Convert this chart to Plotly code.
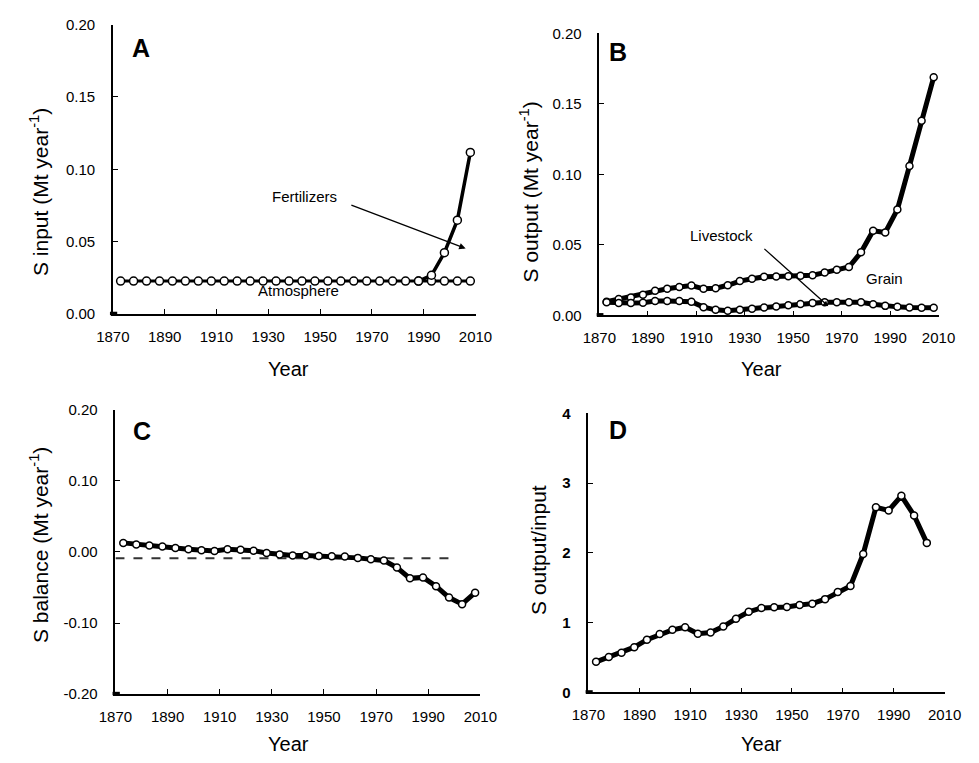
import plotly.graph_objects as go

# ---- data ----
years = [1873 + 5 * i for i in range(28)]
years_d = years[:27]

atmosphere = [0.0228] * 28
fert_years = [1988, 1993, 1998, 2003, 2008]
fertilizers = [0.0228, 0.0268, 0.0424, 0.0649, 0.1117]

grain = [0.0097, 0.0116, 0.0127, 0.0146, 0.0174, 0.0188, 0.0201, 0.0211, 0.0188, 0.0192,
         0.0213, 0.0243, 0.0259, 0.0273, 0.0275, 0.0278, 0.0280, 0.0285, 0.0303, 0.0324,
         0.0343, 0.0447, 0.0600, 0.0588, 0.0750, 0.1060, 0.1380, 0.1690]
livestock = [0.0093, 0.0088, 0.0088, 0.0090, 0.0102, 0.0102, 0.0102, 0.0097, 0.0058, 0.0039,
             0.0032, 0.0039, 0.0046, 0.0056, 0.0063, 0.0072, 0.0081, 0.0088, 0.0093, 0.0093,
             0.0093, 0.0093, 0.0079, 0.0067, 0.0060, 0.0056, 0.0053, 0.0053]

balance = [0.0128, 0.0106, 0.0092, 0.0078, 0.0055, 0.0037, 0.0023, 0.0014, 0.0037, 0.0032,
           0.0018, -0.0014, -0.0037, -0.0051, -0.0051, -0.0055, -0.0060, -0.0064, -0.0083, -0.0101,
           -0.0119, -0.0220, -0.0371, -0.0358, -0.0481, -0.0642, -0.0734, -0.0573]
dash_x = [1870, 1998.5]
dash_y = [-0.0087, -0.0087]

ratio = [0.438, 0.508, 0.569, 0.649, 0.756, 0.836, 0.897, 0.934, 0.841, 0.859,
         0.944, 1.056, 1.155, 1.211, 1.220, 1.225, 1.253, 1.272, 1.337, 1.440,
         1.525, 1.984, 2.653, 2.607, 2.817, 2.536, 2.143]

xticks = [1870, 1890, 1910, 1930, 1950, 1970, 1990, 2010]
c_tickvals = [-0.20, -0.10, 0.00, 0.10, 0.20]
c_ticktext = ["-0.20", "-0.10", "0.00", "0.10", "0.20"]

FONT = "Liberation Sans, Arial, sans-serif"
W, H = 979, 763

fig = go.Figure()

def line(x, y, xa, ya, lw=4, ms=8):
    fig.add_trace(go.Scatter(
        x=x, y=y, xaxis=xa, yaxis=ya, mode="lines+markers",
        line=dict(color="black", width=lw),
        marker=dict(symbol="circle", size=ms, color="white", line=dict(color="black", width=1.5)),
        showlegend=False, hoverinfo="skip"))

# Panel A
line(years, atmosphere, "x", "y", lw=3, ms=8)
line(fert_years, fertilizers, "x", "y", lw=3.5, ms=8)
# Panel B
line(years, grain, "x2", "y2", lw=5, ms=7)
line(years, livestock, "x2", "y2", lw=5, ms=7)
# Panel C
fig.add_trace(go.Scatter(x=dash_x, y=dash_y, xaxis="x3", yaxis="y3", mode="lines",
                         line=dict(color="#333333", width=2, dash="dash"),
                         showlegend=False, hoverinfo="skip"))
line(years, balance, "x3", "y3", lw=5, ms=7)
# Panel D
line(years_d, ratio, "x4", "y4", lw=5, ms=7)

def px_x(a, b):
    return [a / W, b / W]

def px_y(top, bottom):
    return [1 - bottom / H, 1 - top / H]

xcommon = dict(range=[1870, 2010], tickvals=xticks, ticks="inside", ticklen=5, tickwidth=1.2,
               tickcolor="black", showline=True, linecolor="black", linewidth=1.5,
               showgrid=False, zeroline=False, tickfont=dict(family=FONT, size=15, color="black"),
               ticklabelstandoff=8)
ycommon = dict(ticks="inside", ticklen=5, tickwidth=1.2, tickcolor="black", showline=True,
               linecolor="black", linewidth=1.5, showgrid=False, zeroline=False,
               tickfont=dict(family=FONT, size=15, color="black"), ticklabelstandoff=13)

fig.update_layout(
    width=W, height=H, margin=dict(l=0, r=0, t=0, b=0),
    plot_bgcolor="white", paper_bgcolor="white",
    font=dict(family=FONT, color="black"),
    xaxis=dict(domain=px_x(99.3, 475), anchor="y", **xcommon),
    yaxis=dict(domain=px_y(16, 312), anchor="x", range=[0, 0.20], dtick=0.05, tickformat=".2f", **ycommon),
    xaxis2=dict(domain=px_x(603.3, 954.7), anchor="y2", **xcommon),
    yaxis2=dict(domain=px_y(25, 313.3), anchor="x2", range=[0, 0.20], dtick=0.05, tickformat=".2f", **ycommon),
    xaxis3=dict(domain=px_x(102, 480), anchor="y3", **xcommon),
    yaxis3=dict(domain=px_y(410, 700.7), anchor="x3", range=[-0.20, 0.20],
                tickvals=c_tickvals, ticktext=c_ticktext, **ycommon),
    xaxis4=dict(domain=px_x(592, 961), anchor="y4", **xcommon),
    yaxis4=dict(domain=px_y(413.5, 699), anchor="x4", range=[0, 4], dtick=1,
                **{**ycommon, "tickfont": dict(family=FONT, size=15, color="black", weight="bold")}),
)

# small black origin markers (Excel artifact)
shapes = []
for xa, ya in [("x", "y"), ("x2", "y2"), ("x3", "y3"), ("x4", "y4")]:
    shapes.append(dict(type="rect", xref=f"{xa} domain", yref=f"{ya} domain",
                       x0=-0.008, x1=0.012, y0=-0.004, y1=0.008,
                       fillcolor="black", line=dict(width=0)))
fig.update_layout(shapes=shapes)

ann = []
def ptext(text, x, y, size=21, angle=0, bold=False):
    ann.append(dict(text=text, x=x / W, y=1 - y / H, xref="paper", yref="paper", showarrow=False,
                    textangle=angle, xanchor="center", yanchor="middle",
                    font=dict(family=FONT, size=size, color="black", weight="bold" if bold else "normal")))

ptext("S input (Mt year<sup>-1</sup>)", 23, 187, angle=-90)
ptext("S output (Mt year<sup>-1</sup>)", 530, 187, angle=-90)
ptext("S balance (Mt year<sup>-1</sup>)", 23, 548, angle=-90)
ptext("S output/input", 540, 553, angle=-90)
for cx, cy in [(281, 368), (771, 368), (281, 752), (771, 752)]:
    ptext("Year", cx, cy, size=20)
for t, cx, cy in [("A", 128, 40), ("B", 623, 44), ("C", 129, 432), ("D", 623, 431)]:
    ptext(t, cx, cy, size=25, bold=True)

# Panel annotations (data coordinates)
ann.append(dict(text="Fertilizers", x=1944, y=0.081, xref="x", yref="y", showarrow=False,
                font=dict(family=FONT, size=15, color="black")))
ann.append(dict(text="", x=2006.2, y=0.0453, ax=1961.5, ay=0.0757, xref="x", yref="y",
                axref="x", ayref="y", showarrow=True, arrowhead=2, arrowsize=1, arrowwidth=1.3,
                arrowcolor="black"))
ann.append(dict(text="Atmosphere", x=1941.7, y=0.0162, xref="x", yref="y", showarrow=False,
                font=dict(family=FONT, size=15, color="black")))
ann.append(dict(text="Livestock", x=1920.6, y=0.0565, xref="x2", yref="y2", showarrow=False,
                font=dict(family=FONT, size=15, color="black")))
ann.append(dict(text="", x=1964.5, y=0.0065, ax=1937.5, ay=0.0481, xref="x2", yref="y2",
                axref="x2", ayref="y2", showarrow=True, arrowhead=2, arrowsize=0.8, arrowwidth=1.3,
                arrowcolor="black"))
ann.append(dict(text="Grain", x=1987.8, y=0.0259, xref="x2", yref="y2", showarrow=False,
                font=dict(family=FONT, size=15, color="black")))

fig.update_layout(annotations=ann)
fig.write_html("out.html")
